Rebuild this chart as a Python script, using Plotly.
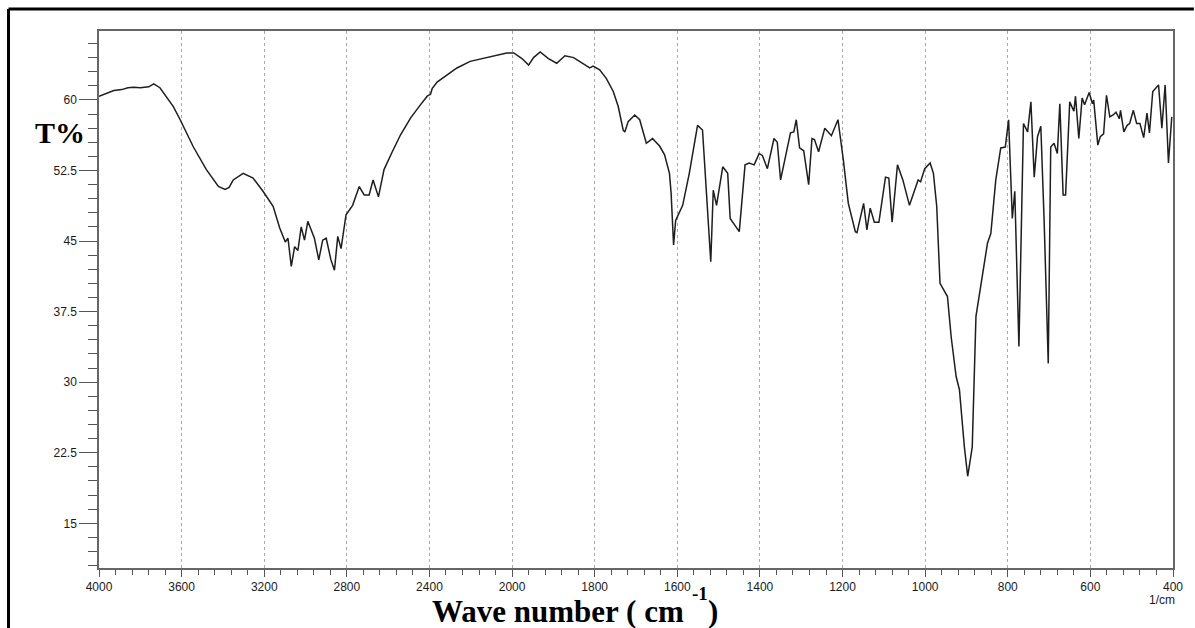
import plotly.graph_objects as go

# IR transmittance spectrum: wavenumber (cm-1) and transmittance (%)
wavenumber = [
    4000, 3960, 3928, 3890, 3860, 3831, 3800, 3759, 3735, 3705, 3679, 3640, 3607,
    3543, 3480, 3422, 3390, 3370, 3350, 3302, 3254, 3206, 3157, 3125, 3098, 3085,
    3069, 3053, 3037, 3021, 3005, 2989, 2973, 2957, 2936, 2917, 2900, 2877, 2860,
    2844, 2828, 2804, 2772, 2740, 2716, 2692, 2673, 2647, 2620, 2600, 2580, 2540,
    2491, 2443, 2411, 2395, 2387, 2363, 2315, 2267, 2203, 2138, 2074, 2026, 1996,
    1976, 1960, 1948, 1932, 1912, 1892, 1872, 1851, 1836, 1812, 1804, 1788, 1772,
    1755, 1743, 1731, 1727, 1719, 1703, 1691, 1675, 1660, 1643, 1631, 1619, 1615,
    1609, 1604, 1587, 1571, 1551, 1539, 1519, 1513, 1505, 1490, 1478, 1472, 1450,
    1436, 1426, 1414, 1402, 1394, 1382, 1366, 1358, 1350, 1338, 1326, 1318, 1312,
    1304, 1294, 1282, 1274, 1268, 1258, 1243, 1227, 1211, 1198, 1186, 1169, 1165,
    1149, 1141, 1133, 1123, 1112, 1096, 1088, 1080, 1067, 1054, 1038, 1017, 1011,
    1001, 988, 980, 972, 964, 952, 946, 937, 925, 917, 905, 897, 886, 877, 865,
    849, 841, 829, 817, 806, 798, 793, 789, 783, 773, 762, 752, 744, 736, 728,
    720, 712, 702, 696, 688, 680, 674, 666, 660, 650, 640, 636, 628, 620, 614,
    603, 595, 592, 582, 576, 568, 561, 553, 545, 538, 530, 527, 519, 511, 505,
    496, 488, 480, 471, 463, 457, 449, 435, 427, 419, 411, 403,
]
transmittance = [
    60.4, 60.7, 61.0, 61.1, 61.3, 61.35, 61.3, 61.4, 61.7, 61.3, 60.5, 59.3, 57.9,
    55.0, 52.6, 50.8, 50.5, 50.7, 51.5, 52.2, 51.7, 50.3, 48.7, 46.4, 44.9, 45.3,
    42.3, 44.4, 44.0, 46.5, 45.1, 47.1, 46.2, 45.3, 43.0, 45.1, 45.3, 43.0, 41.9,
    45.5, 44.2, 47.8, 48.8, 50.8, 49.9, 49.9, 51.5, 49.7, 52.6, 53.6, 54.5, 56.3,
    58.1, 59.5, 60.4, 60.6, 61.2, 61.9, 62.7, 63.4, 64.1, 64.4, 64.7, 65.0, 65.0,
    64.4, 63.7, 64.5, 65.1, 64.4, 63.9, 64.7, 64.5, 64.1, 63.4, 63.6, 63.2, 62.3,
    60.9, 59.3, 56.8, 56.6, 57.7, 58.4, 57.9, 55.4, 55.9, 55.1, 54.2, 52.2, 50.1,
    44.6, 47.2, 48.8, 52.2, 57.3, 56.8, 42.8, 50.4, 48.8, 52.9, 52.2, 47.4, 46.0,
    53.1, 53.3, 53.1, 54.3, 54.1, 52.7, 55.9, 55.5, 51.5, 54.0, 56.5, 56.6, 57.9,
    54.9, 54.6, 51.0, 55.9, 55.8, 54.5, 57.0, 56.2, 57.9, 53.6, 49.0, 46.0, 45.9,
    49.0, 46.2, 48.5, 47.0, 47.0, 51.8, 51.7, 47.0, 53.1, 51.5, 48.8, 51.5, 51.3,
    52.7, 53.3, 52.2, 48.7, 40.5, 39.5, 39.1, 34.8, 30.6, 29.2, 23.1, 20.0, 23.1,
    37.0, 40.5, 44.8, 45.8, 51.5, 54.9, 55.0, 57.9, 51.8, 47.4, 50.3, 33.8, 57.5,
    56.6, 59.8, 51.8, 56.1, 57.2, 47.2, 32.0, 55.0, 55.4, 54.3, 59.6, 49.9, 49.9,
    59.8, 58.8, 60.4, 55.9, 60.2, 59.5, 60.8, 59.6, 60.0, 55.2, 56.1, 56.4, 60.5,
    58.2, 58.4, 58.7, 58.0, 58.9, 56.6, 57.3, 57.5, 58.9, 57.5, 57.5, 56.0, 58.6,
    56.5, 60.9, 61.6, 57.0, 61.6, 53.3, 58.2,
]

x_tick_labels = [4000, 3600, 3200, 2800, 2400, 2000, 1800, 1600, 1400, 1200, 1000, 800, 600, 400]
y_tick_values = [15, 22.5, 30, 37.5, 45, 52.5, 60]


def axis_pos(w):
    # spectrometer chart scale: 4000-2000 is drawn at half the density of 2000-400
    return (4000 - w) / 2 if w >= 2000 else 1000 + (2000 - w)


x_pos = [axis_pos(w) for w in wavenumber]
x_tick_pos = [axis_pos(w) for w in x_tick_labels]

# plot area in pixels
L, R, T, B = 99, 1179, 31, 568
W, H = 1195, 628


def px(x):
    return (x - L) / (R - L)


def py(y):
    return (B - y) / (B - T)


tick_font = dict(family="Liberation Sans, Arial, sans-serif", size=12, color="#1a1a1a")
serif_bold = "Liberation Serif, Times New Roman, serif"


def title_part(text, x, y, size, anchor):
    return dict(text=text, x=px(x), y=py(y), xref="paper", yref="paper",
                xanchor=anchor, yanchor="middle", showarrow=False, borderpad=0,
                font=dict(family=serif_bold, size=size, color="black", weight="bold"))


fig = go.Figure()
fig.add_trace(go.Scatter(
    x=x_pos, y=transmittance, mode="lines",
    line=dict(color="#1e1e1e", width=1.5),
    showlegend=False, hoverinfo="skip",
))

fig.update_layout(
    width=W, height=H,
    margin=dict(l=L, r=W - R, t=T, b=H - B),
    paper_bgcolor="white", plot_bgcolor="white",
    xaxis=dict(
        range=[0, 2600],
        tickvals=x_tick_pos, ticktext=[str(v) for v in x_tick_labels],
        ticks="outside", ticklen=7, tickcolor="#555", tickwidth=1,
        minor=dict(dtick=40, tick0=0, ticks="outside", ticklen=5, tickcolor="#555", showgrid=False),
        showline=True, mirror=True, linecolor="#666", linewidth=1.5,
        showgrid=True, gridcolor="#aaa", griddash="dot", gridwidth=1,
        zeroline=False, tickfont=tick_font,
    ),
    yaxis=dict(
        range=[10.25, 67.33],
        tickvals=y_tick_values, ticktext=["15", "22.5", "30", "37.5", "45", "52.5", "60"],
        ticks="outside", ticklen=18, tickcolor="#555", tickwidth=1,
        minor=dict(dtick=1.5, tick0=15, ticks="outside", ticklen=9, tickcolor="#555", showgrid=False),
        showline=True, mirror=True, linecolor="#666", linewidth=1.5,
        showgrid=False, zeroline=False, tickfont=tick_font,
    ),
    annotations=[
        title_part("T%", 60, 132, 30, "center"),
        # x-axis title, with the superscript set as its own piece
        title_part("Wave number ( cm", 688, 611, 31, "right"),
        title_part("-1", 694, 593, 19, "left"),
        title_part(")", 710, 611, 31, "left"),
        dict(text="1/cm", x=px(1168), y=py(600), xref="paper", yref="paper",
             xanchor="center", yanchor="middle", showarrow=False, font=tick_font),
    ],
    shapes=[
        # outer frame (top and left edges)
        dict(type="line", xref="paper", yref="paper", x0=px(8), x1=px(W + 5),
             y0=py(9), y1=py(9), line=dict(color="black", width=3)),
        dict(type="line", xref="paper", yref="paper", x0=px(8), x1=px(8),
             y0=py(9), y1=py(H + 5), line=dict(color="black", width=3)),
    ],
)

fig.write_html("out.html")
